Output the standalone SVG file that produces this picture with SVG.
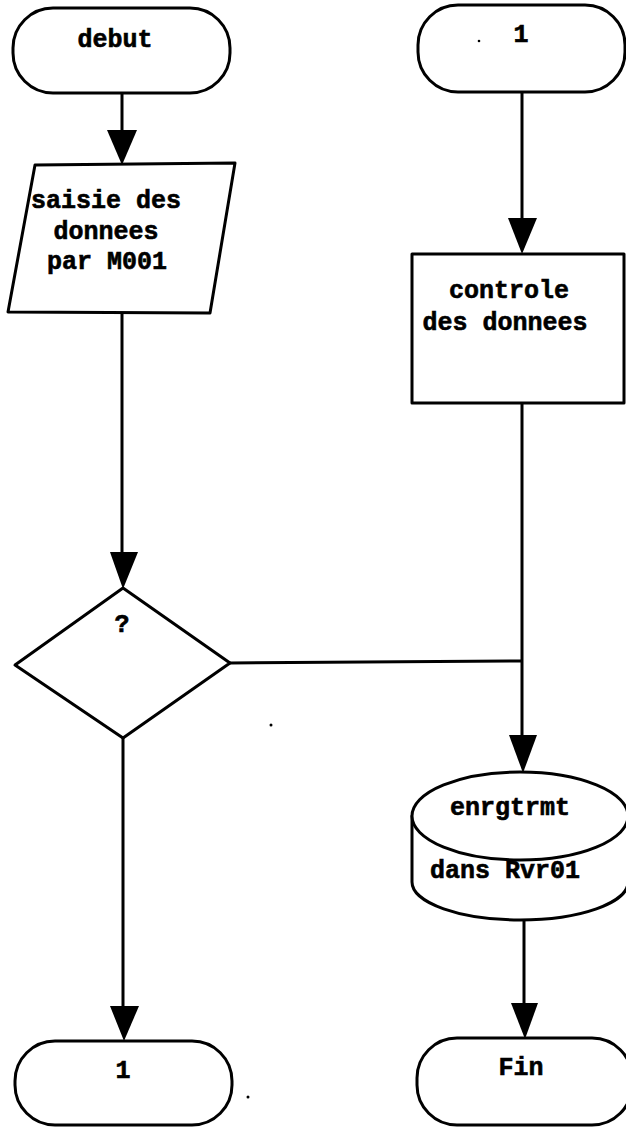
<svg xmlns="http://www.w3.org/2000/svg" width="626" height="1128" viewBox="0 0 626 1128">
<style>
.s{fill:#fff;stroke:#000;stroke-width:3;stroke-linejoin:round}
.c{fill:none;stroke:#000;stroke-width:3}
.h{fill:#000;stroke:none}
.t{font-family:"Liberation Mono","Courier New",monospace;font-weight:bold;font-size:25px;fill:#000;stroke:#000;stroke-width:0.6;text-anchor:middle}
</style>
<rect width="626" height="1128" fill="#fff"/>
<g id="connectors">
<line class="c" x1="122" y1="93" x2="122" y2="132"/>
<polygon class="h" points="107,130 137,130 122,165"/>
<line class="c" x1="122" y1="313" x2="122" y2="554"/>
<polygon class="h" points="110,552 138,552 123,589"/>
<line class="c" x1="123" y1="738" x2="123" y2="1009"/>
<polygon class="h" points="110,1006 139,1006 124,1041"/>
<line class="c" x1="522" y1="92" x2="522" y2="220"/>
<polygon class="h" points="508,218 537,218 522,254"/>
<line class="c" x1="522" y1="403" x2="522" y2="737"/>
<polygon class="h" points="509,735 537,735 523,773"/>
<line class="c" x1="230" y1="663" x2="522" y2="661"/>
<line class="c" x1="524" y1="920" x2="524" y2="1005"/>
<polygon class="h" points="511,1003 538,1003 525,1039"/>
</g>
<g id="debut">
<rect class="s" x="13" y="8" width="217" height="85" rx="40" ry="40"/>
<text class="t" x="115" y="47">debut</text>
</g>
<g id="saisie">
<polygon class="s" points="35,165 235,163 210,313 8,312"/>
<text class="t" x="106" y="208">saisie des</text>
<text class="t" x="106" y="239">donnees</text>
<text class="t" x="107" y="269">par M001</text>
</g>
<g id="decision">
<polygon class="s" points="123,588 230,663 123,738 15,665"/>
<text class="t" x="122" y="632">?</text>
</g>
<g id="connecteur1-bas">
<rect class="s" x="15" y="1041" width="217" height="84" rx="40" ry="40"/>
<text class="t" x="123" y="1078">1</text>
</g>
<g id="connecteur1-haut">
<rect class="s" x="418" y="5" width="207" height="87" rx="40" ry="40"/>
<text class="t" x="521" y="42">1</text>
<circle cx="479" cy="41" r="1.3" fill="#000"/>
</g>
<g id="controle">
<rect class="s" x="412" y="254" width="212" height="149"/>
<text class="t" x="509" y="298">controle</text>
<text class="t" x="505" y="330">des donnees</text>
</g>
<g id="enregistrement">
<path class="s" d="M412,816 L412,882 A108,38 0 0 0 628,882 L628,816 Z"/>
<ellipse class="s" cx="520" cy="816" rx="108" ry="44"/>
<text class="t" x="510" y="815">enrgtrmt</text>
<text class="t" x="505" y="878">dans Rvr01</text>
</g>
<g id="fin">
<rect class="s" x="417" y="1038" width="215" height="87" rx="40" ry="40"/>
<text class="t" x="521" y="1075">Fin</text>
</g>
<circle cx="271" cy="725" r="1.5" fill="#000"/>
<circle cx="248" cy="1097" r="1.5" fill="#000"/>
</svg>
